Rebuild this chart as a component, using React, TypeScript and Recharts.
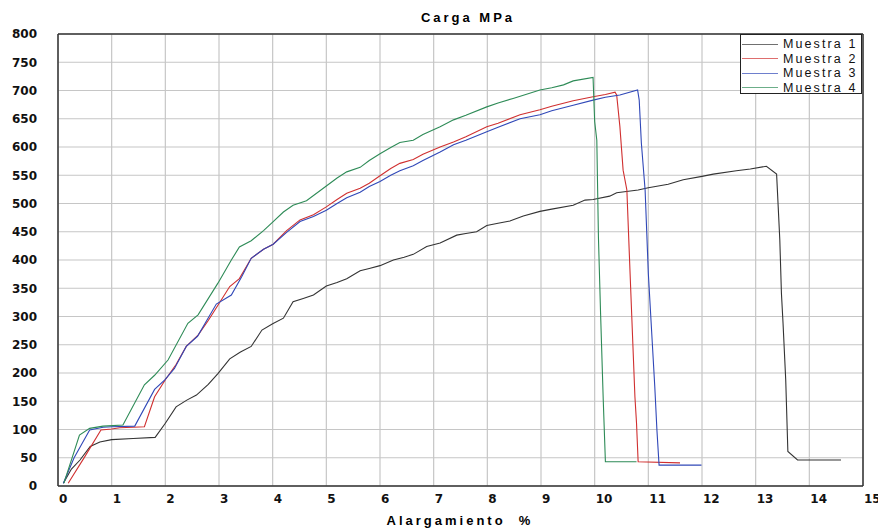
import { LineChart, Line, XAxis, YAxis, CartesianGrid, ReferenceLine } from 'recharts';

// elongation (%) vs load (MPa)
const m1X = [0.1, 0.25, 0.41, 0.6, 0.78, 1.0, 1.4, 1.81, 2.0, 2.2, 2.4, 2.58, 2.8, 2.98, 3.2, 3.4, 3.6, 3.8, 4.0, 4.2, 4.38, 4.57, 4.76, 5.0, 5.2, 5.38, 5.63, 5.8, 6.0, 6.25, 6.45, 6.62, 6.87, 7.12, 7.43, 7.6, 7.8, 7.99, 8.2, 8.42, 8.67, 8.98, 9.2, 9.6, 9.82, 9.97, 10.28, 10.41, 10.81, 11.0, 11.37, 11.65, 12.0, 12.21, 12.64, 12.9, 13.2, 13.39, 13.42, 13.45, 13.48, 13.51, 13.56, 13.6, 13.78, 14.59];
const m1Y = [5, 30, 46, 70, 78, 82, 84, 86, 111, 140, 152, 161, 180, 199, 225, 237, 247, 276, 287, 297, 326, 332, 338, 354, 360, 367, 381, 385, 390, 400, 405, 410, 424, 430, 444, 447, 450, 461, 465, 469, 478, 486, 490, 497, 506, 507, 513, 519, 524, 528, 534, 542, 548, 552, 558, 561, 566, 552, 494, 435, 341, 288, 188, 61, 46, 46];

const m2X = [0.19, 0.5, 0.8, 1.0, 1.15, 1.4, 1.61, 1.8, 2.0, 2.2, 2.39, 2.61, 2.8, 2.98, 3.2, 3.38, 3.6, 3.83, 4.01, 4.26, 4.51, 4.76, 5.0, 5.2, 5.38, 5.63, 5.8, 6.0, 6.2, 6.37, 6.62, 6.8, 7.12, 7.37, 7.6, 7.99, 8.2, 8.61, 8.98, 9.2, 9.6, 9.97, 10.2, 10.38, 10.41, 10.47, 10.53, 10.6, 10.66, 10.75, 10.78, 10.81, 11.59];
const m2Y = [5, 52, 99, 101, 103, 104, 105, 158, 188, 215, 247, 267, 293, 320, 353, 367, 403, 419, 428, 452, 471, 480, 494, 507, 518, 527, 536, 549, 562, 571, 578, 587, 600, 609, 618, 636, 642, 657, 666, 672, 682, 689, 693, 697, 692, 636, 559, 524, 376, 158, 111, 43, 41];

const m3X = [0.1, 0.3, 0.59, 0.84, 1.0, 1.43, 1.8, 1.99, 2.17, 2.39, 2.6, 2.95, 3.23, 3.42, 3.6, 3.83, 4.01, 4.26, 4.51, 4.76, 5.0, 5.2, 5.38, 5.63, 5.8, 6.0, 6.2, 6.37, 6.62, 6.8, 7.12, 7.37, 7.6, 7.99, 8.2, 8.61, 8.98, 9.2, 9.6, 9.97, 10.2, 10.47, 10.8, 10.83, 10.87, 10.94, 11.0, 11.12, 11.16, 11.2, 11.99];
const m3Y = [5, 50, 99, 104, 105, 106, 171, 188, 208, 247, 265, 322, 338, 370, 403, 419, 428, 449, 468, 477, 488, 500, 510, 520, 530, 539, 550, 558, 567, 576, 591, 604, 612, 627, 635, 650, 657, 664, 674, 683, 688, 692, 701, 683, 607, 524, 376, 176, 99, 37, 37];

const m4X = [0.11, 0.4, 0.59, 0.84, 1.21, 1.61, 1.8, 2.05, 2.42, 2.61, 2.98, 3.23, 3.38, 3.6, 3.83, 4.01, 4.2, 4.38, 4.63, 5.0, 5.2, 5.38, 5.63, 5.8, 6.0, 6.2, 6.37, 6.62, 6.8, 7.12, 7.37, 7.6, 7.99, 8.2, 8.48, 8.98, 9.2, 9.42, 9.6, 9.97, 10.0, 10.04, 10.07, 10.11, 10.16, 10.2, 10.78];
const m4Y = [5, 90, 102, 106, 108, 179, 196, 223, 288, 303, 359, 400, 423, 434, 452, 468, 485, 497, 505, 531, 545, 556, 564, 576, 588, 599, 608, 612, 622, 636, 648, 656, 671, 678, 686, 701, 705, 710, 717, 723, 645, 612, 441, 306, 152, 43, 43];

const xTicks = [0, 1, 2, 3, 4, 5, 6, 7, 8, 9, 10, 11, 12, 13, 14, 15];
const yTicks = [0, 50, 100, 150, 200, 250, 300, 350, 400, 450, 500, 550, 600, 650, 700, 750, 800];

const toPoints = (xs: number[], ys: number[]) => xs.map((x, i) => ({ x, y: ys[i] }));

const series = [
  { name: 'Muestra 1', color: '#333333', data: toPoints(m1X, m1Y) },
  { name: 'Muestra 2', color: '#d03030', data: toPoints(m2X, m2Y) },
  { name: 'Muestra 3', color: '#3048b8', data: toPoints(m3X, m3Y) },
  { name: 'Muestra 4', color: '#2e8b57', data: toPoints(m4X, m4Y) },
];

const tickFont = { fontFamily: '"DejaVu Sans", Verdana, sans-serif', fontWeight: 'bold' as const, fontSize: 12, fill: '#111' };

const XTick = ({ x, y, payload }: any) => (
  <text x={x + 1} y={y} dy="0.71em" textAnchor="start" {...tickFont}>{payload.value}</text>
);

const LegendBox = () => (
  <div style={{ position: 'absolute', left: 740, top: 34, background: '#fff', border: '1.5px solid #222', width: 122, height: 60, padding: '2px 0 0 1px', boxSizing: 'border-box' }}>
    {series.map(s => (
      <div key={s.name} style={{ display: 'flex', alignItems: 'center', height: 14.5, whiteSpace: 'nowrap' }}>
        <span style={{ width: 36, borderTop: `1.5px solid ${s.color}`, display: 'inline-block', marginRight: 5, opacity: 0.7 }}></span>
        <span style={{ fontFamily: '"Liberation Sans", Arial, sans-serif', fontSize: 12.5, letterSpacing: 2.1, color: '#111', lineHeight: '14px' }}>{s.name}</span>
      </div>
    ))}
  </div>
);

export default function App() {
  return (
    <div style={{ position: 'absolute', left: 0, top: 0, width: 878, height: 529, background: '#fff', overflow: 'hidden' }}>
      <div style={{ position: 'absolute', left: 0, width: 936, top: 10, textAlign: 'center', fontFamily: '"Liberation Sans", Arial, sans-serif', fontWeight: 'bold', fontSize: 13, letterSpacing: 3, lineHeight: '15px' }}>
        Carga MPa
      </div>
      <LineChart width={878} height={529} margin={{ top: 34, right: 15, bottom: 13, left: 8 }}>
        <CartesianGrid stroke="#c6c6c6" strokeWidth={1.2} />
        <XAxis
          type="number"
          dataKey="x"
          domain={[0, 15]}
          ticks={xTicks}
          interval={0}
          height={30}
          tickLine={false}
          tickSize={0}
          tickMargin={8}
          axisLine={{ stroke: '#333', strokeWidth: 1.5 }}
          tick={<XTick />}
          allowDataOverflow
        />
        <YAxis
          type="number"
          dataKey="y"
          domain={[0, 800]}
          ticks={yTicks}
          interval={0}
          width={50}
          tickLine={false}
          tickSize={0}
          tickMargin={21}
          axisLine={{ stroke: '#333', strokeWidth: 1.5 }}
          tick={tickFont}
        />
        <ReferenceLine x={15} stroke="#333" strokeWidth={1.5} />
        <ReferenceLine y={800} stroke="#333" strokeWidth={1.5} />
        {series.map(s => (
          <Line
            key={s.name}
            data={s.data}
            dataKey="y"
            name={s.name}
            type="linear"
            stroke={s.color}
            strokeWidth={1.1}
            dot={false}
            activeDot={false}
            isAnimationActive={false}
          />
        ))}
      </LineChart>
      <LegendBox />
      <div style={{ position: 'absolute', left: 0, width: 920, top: 513, textAlign: 'center', fontFamily: '"Liberation Sans", Arial, sans-serif', fontWeight: 'bold', fontSize: 13, letterSpacing: 3, lineHeight: '15px', whiteSpace: 'pre' }}>
        {'Alargamiento  %'}
      </div>
    </div>
  );
}
